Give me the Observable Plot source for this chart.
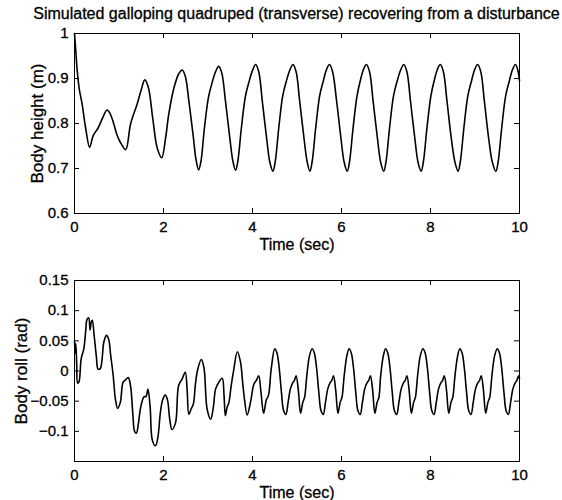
<!DOCTYPE html>
<html>
<head>
<meta charset="utf-8">
<script src="https://cdn.jsdelivr.net/npm/d3@7"></script>
<script src="https://cdn.jsdelivr.net/npm/@observablehq/plot@0.6"></script>
<style>
  body { margin: 0; background: #fff; font-family: "Liberation Sans", Arial, Helvetica, sans-serif; }
  #title { height: 26px; line-height: 28px; font-size: 16px; color: #000; text-align: center; padding-left: 31px; white-space: nowrap; -webkit-text-stroke: 0.3px #000; }
  svg { display: block; }
  svg text { stroke: #000; stroke-width: 0.3px; }
</style>
</head>
<body>
<div id="title"></div>
<div id="chart"></div>
<script>
const titleText = "Simulated galloping quadruped (transverse) recovering from a disturbance";
const xLabel = "Time (sec)";
const heightLabel = "Body height (m)";
const rollLabel = "Body roll (rad)";
const xTicks = [0, 2, 4, 6, 8, 10];
const heightTicks = [0.6, 0.7, 0.8, 0.9, 1];
const rollTicks = [-0.1, -0.05, 0, 0.05, 0.1, 0.15];
const rollTickMarks = [-0.15, -0.1, -0.05, 0, 0.05, 0.1, 0.15];

// Body height (m) vs time (sec)
const heightTime = [
  0, 0.03, 0.06, 0.11, 0.17, 0.25, 0.34, 0.42, 0.53, 0.63, 0.73, 0.80, 0.88, 0.95, 1.02, 1.15,
  1.26, 1.41, 1.50, 1.58, 1.66, 1.76, 1.86, 1.96, 2.05, 2.12, 2.24, 2.34, 2.42,
  2.49, 2.57, 2.67, 2.73, 2.79, 2.84, 2.92, 3.01, 3.09, 3.17, 3.24,
  3.31, 3.39, 3.49, 3.56, 3.62, 3.67, 3.75, 3.84, 3.92, 4.00, 4.07,
  4.14, 4.22, 4.32, 4.39, 4.46, 4.51, 4.59, 4.68, 4.76, 4.84, 4.91,
  4.98, 5.06, 5.16, 5.23, 5.29, 5.34, 5.42, 5.51, 5.59, 5.66, 5.73,
  5.80, 5.89, 5.99, 6.06, 6.13, 6.18, 6.26, 6.35, 6.42, 6.49, 6.56,
  6.63, 6.71, 6.81, 6.88, 6.95, 7.00, 7.08, 7.17, 7.25, 7.33, 7.40,
  7.47, 7.55, 7.65, 7.72, 7.79, 7.84, 7.92, 8.01, 8.08, 8.15, 8.22,
  8.29, 8.37, 8.47, 8.55, 8.62, 8.67, 8.75, 8.84, 8.92, 8.99, 9.06,
  9.13, 9.21, 9.31, 9.39, 9.47, 9.52, 9.60, 9.69, 9.77, 9.84, 9.91,
  9.97, 10.0
];
const heightValue = [
  1.0, 0.96, 0.918, 0.875, 0.844, 0.79, 0.747, 0.773, 0.790, 0.812, 0.830, 0.822, 0.80, 0.776, 0.760, 0.742,
  0.799, 0.844, 0.875, 0.897, 0.88, 0.81, 0.745, 0.724, 0.77, 0.822, 0.881, 0.910, 0.919,
  0.905, 0.850, 0.770, 0.720, 0.697, 0.715, 0.790, 0.858, 0.890, 0.915, 0.927,
  0.912, 0.852, 0.768, 0.716, 0.696, 0.716, 0.790, 0.860, 0.892, 0.918, 0.931,
  0.915, 0.850, 0.765, 0.714, 0.694, 0.715, 0.790, 0.862, 0.894, 0.919, 0.931,
  0.915, 0.850, 0.765, 0.714, 0.694, 0.715, 0.790, 0.862, 0.894, 0.919, 0.931,
  0.915, 0.850, 0.765, 0.714, 0.694, 0.715, 0.790, 0.862, 0.894, 0.919, 0.931,
  0.915, 0.850, 0.765, 0.714, 0.694, 0.715, 0.790, 0.862, 0.894, 0.919, 0.931,
  0.915, 0.850, 0.765, 0.714, 0.694, 0.715, 0.790, 0.862, 0.894, 0.919, 0.931,
  0.915, 0.850, 0.765, 0.714, 0.694, 0.715, 0.790, 0.862, 0.894, 0.919, 0.931,
  0.915, 0.850, 0.765, 0.714, 0.694, 0.715, 0.790, 0.862, 0.894, 0.919, 0.931,
  0.915, 0.895
];

// Body roll (rad) vs time (sec)
const rollTime = [
  0.00, 0.015, 0.03, 0.05, 0.07, 0.10, 0.15, 0.21, 0.25, 0.28, 0.32, 0.35, 0.38, 0.40, 0.44, 0.49,
  0.53, 0.58, 0.62, 0.66, 0.72, 0.77, 0.81, 0.87, 0.92, 0.97, 1.03, 1.09, 1.14, 1.21, 1.26, 1.31,
  1.35, 1.39, 1.44, 1.48, 1.56, 1.61, 1.65, 1.70, 1.75, 1.82, 1.87, 1.93, 1.98, 2.04, 2.09, 2.14,
  2.19, 2.27, 2.34, 2.42, 2.49, 2.53, 2.57, 2.62, 2.67, 2.72, 2.77, 2.85, 2.91, 2.98, 3.06, 3.12,
  3.17, 3.24, 3.32, 3.36, 3.39, 3.43, 3.47, 3.52, 3.57, 3.66, 3.73, 3.78, 3.82, 3.88, 3.96, 4.03,
  4.09, 4.14, 4.19, 4.25, 4.31, 4.36, 4.42, 4.50,
  4.55, 4.60, 4.65, 4.70, 4.75, 4.80, 4.85, 4.90, 4.94, 4.98, 5.03, 5.08, 5.13, 5.17, 5.22, 5.28, 5.34,
  5.39, 5.44, 5.49, 5.54, 5.59, 5.64, 5.69, 5.74, 5.78, 5.82, 5.87, 5.92, 5.97, 6.01, 6.06, 6.12, 6.17,
  6.22, 6.27, 6.32, 6.37, 6.42, 6.47, 6.52, 6.57, 6.61, 6.65, 6.70, 6.75, 6.80, 6.84, 6.88, 6.94, 6.99,
  7.04, 7.09, 7.14, 7.19, 7.24, 7.29, 7.34, 7.39, 7.43, 7.47, 7.52, 7.57, 7.62, 7.66, 7.71, 7.77, 7.83,
  7.88, 7.93, 7.98, 8.03, 8.08, 8.13, 8.18, 8.23, 8.27, 8.31, 8.36, 8.41, 8.46, 8.50, 8.55, 8.61, 8.66,
  8.71, 8.76, 8.81, 8.86, 8.91, 8.96, 9.01, 9.06, 9.10, 9.14, 9.19, 9.24, 9.29, 9.33, 9.38, 9.44, 9.50,
  9.55, 9.60, 9.65, 9.70, 9.75, 9.80, 9.85, 9.90, 9.94, 9.98, 10.0
];
const rollValue = [
  0.05, 0.03, 0.045, 0.01, -0.02, -0.018, 0.02, 0.037, 0.065, 0.085, 0.088, 0.068, 0.082, 0.084, 0.06, 0.025,
  0.003, 0.004, 0.02, 0.048, 0.059, 0.052, 0.028, -0.008, -0.047, -0.062, -0.052, -0.019, -0.015, -0.011, -0.025, -0.07,
  -0.100, -0.103, -0.085, -0.063, -0.043, -0.042, -0.03, -0.06, -0.115, -0.124, -0.112, -0.069, -0.048, -0.04, -0.048, -0.08,
  -0.097, -0.086, -0.024, -0.013, -0.002, -0.03, -0.072, -0.063, -0.055, -0.02, 0.003, 0.019, 0.005, -0.063, -0.080, -0.06,
  -0.03, -0.019, -0.012, -0.04, -0.074, -0.06, -0.052, -0.025, -0.002, 0.032, 0.015, -0.02, -0.047, -0.073, -0.05, -0.022,
  -0.015, -0.008, -0.035, -0.07, -0.048, -0.04, 0.003, 0.037,
  0.030, 0.005, -0.035, -0.066, -0.072, -0.052, -0.030, -0.020, -0.016, -0.008, -0.032, -0.070, -0.052, -0.044, -0.008, 0.025, 0.037,
  0.030, 0.005, -0.035, -0.066, -0.072, -0.052, -0.030, -0.020, -0.016, -0.008, -0.032, -0.070, -0.052, -0.044, -0.008, 0.025, 0.037,
  0.030, 0.005, -0.035, -0.066, -0.072, -0.052, -0.030, -0.020, -0.016, -0.008, -0.032, -0.070, -0.052, -0.044, -0.008, 0.025, 0.037,
  0.030, 0.005, -0.035, -0.066, -0.072, -0.052, -0.030, -0.020, -0.016, -0.008, -0.032, -0.070, -0.052, -0.044, -0.008, 0.025, 0.037,
  0.030, 0.005, -0.035, -0.066, -0.072, -0.052, -0.030, -0.020, -0.016, -0.008, -0.032, -0.070, -0.052, -0.044, -0.008, 0.025, 0.037,
  0.030, 0.005, -0.035, -0.066, -0.072, -0.052, -0.030, -0.020, -0.016, -0.008, -0.032, -0.070, -0.052, -0.044, -0.008, 0.025, 0.037,
  0.030, 0.005, -0.035, -0.066, -0.072, -0.052, -0.030, -0.020, -0.016, -0.008, -0.012
];

document.getElementById("title").textContent = titleText;

const heightData = heightTime.map((t, i) => ({t, v: heightValue[i]}));
const rollData = rollTime.map((t, i) => ({t, v: rollValue[i]}));

const FONT = "Liberation Sans, Arial, Helvetica, sans-serif";
const TICK = 5;
const fmt = d => String(d).replace("-", "\u2212");

function panel({data, yDomain, yTicks, yTickMarks, yLabel, labelDx, height, marginTop, marginBottom, frameH}) {
  return Plot.plot({
    width: 562,
    height,
    marginLeft: 74,
    marginRight: 43,
    marginTop,
    marginBottom,
    style: {fontFamily: FONT, fontSize: "15px", color: "#000", background: "#fff", overflow: "visible"},
    x: {domain: [0, 10]},
    y: {domain: yDomain},
    marks: [
      Plot.frame({stroke: "#000", strokeWidth: 1}),
      Plot.tickX(xTicks, {x: d => d, insetTop: frameH - TICK, stroke: "#000"}),
      Plot.tickX(xTicks, {x: d => d, insetBottom: frameH - TICK, stroke: "#000"}),
      Plot.tickY(yTickMarks, {y: d => d, insetRight: 445 - TICK, stroke: "#000"}),
      Plot.tickY(yTickMarks, {y: d => d, insetLeft: 445 - TICK, stroke: "#000"}),
      Plot.axisX({ticks: xTicks, tickSize: 0, tickPadding: 8, label: null, tickFormat: fmt, fontSize: 15}),
      Plot.axisY({ticks: yTicks, tickSize: 0, tickPadding: 6, label: null, tickFormat: fmt, fontSize: 15}),
      Plot.text([xLabel], {frameAnchor: "bottom", dy: 31, lineAnchor: "middle", textAnchor: "middle", fontSize: 16, fill: "#000"}),
      Plot.text([yLabel], {frameAnchor: "left", dx: labelDx, rotate: -90, lineAnchor: "middle", textAnchor: "middle", fontSize: 17, fill: "#000"}),
      Plot.line(data, {x: "t", y: "v", curve: "catmull-rom", stroke: "#000", strokeWidth: 1.6})
    ]
  });
}

const topPanel = panel({data: heightData, yDomain: [0.6, 1], yTicks: heightTicks, yTickMarks: heightTicks, yLabel: heightLabel, labelDx: -37,
  height: 244, marginTop: 7, marginBottom: 57, frameH: 180});
const bottomPanel = panel({data: rollData, yDomain: [-0.15, 0.15], yTicks: rollTicks, yTickMarks: rollTickMarks, yLabel: rollLabel, labelDx: -53,
  height: 230, marginTop: 10, marginBottom: 39, frameH: 181});
document.getElementById("chart").append(topPanel, bottomPanel);
</script>
</body>
</html>
